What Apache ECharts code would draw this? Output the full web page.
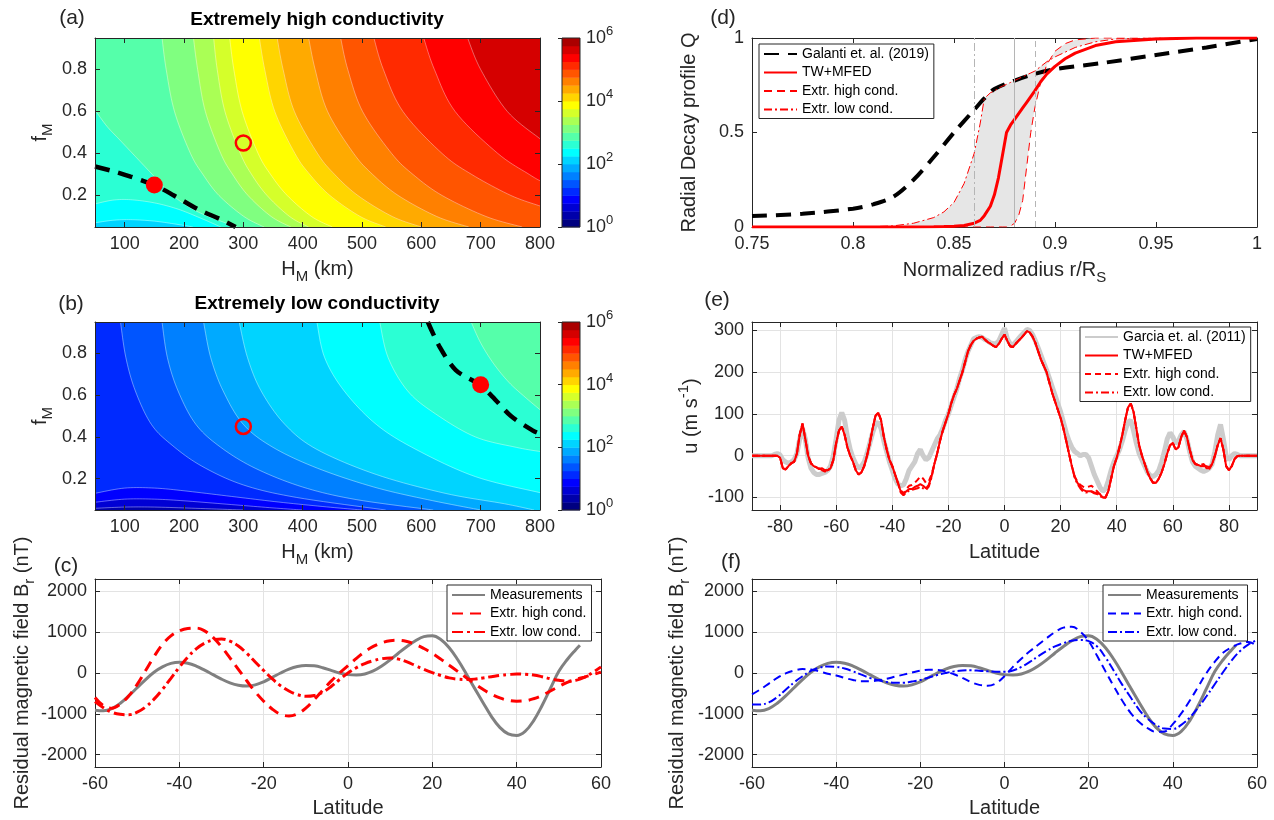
<!DOCTYPE html>
<html><head><meta charset="utf-8">
<script src="https://cdn.jsdelivr.net/npm/echarts@6/dist/echarts.min.js"></script>
<style>html,body{margin:0;padding:0;background:#fff}#main{width:1274px;height:820px}</style>
</head><body><div id="main"></div>
<script>
// ================= DATA =================
// Panel (a): contour boundaries [H_M (km), f_M] at log10 levels (Extremely high conductivity)
const a_c225 = [[50,0.07],[80,0.082],[110,0.085],[150,0.078],[190,0.062],[215,0.05]];
const a_c250 = [[50,0.16],[80,0.178],[110,0.18],[150,0.165],[190,0.135],[230,0.09],[262,0.05]];
const a_c275 = [[50,0.607],[70,0.53],[90,0.47],[110,0.41],[130,0.35],[150,0.29],[170,0.23],[195,0.17],[225,0.12],[260,0.08],[290,0.05]];
const a_c300 = [[163,0.95],[170,0.8],[184,0.6],[211,0.4],[232,0.3],[259,0.2],[301,0.1],[335,0.05]];
const a_c325 = [[216,0.95],[223,0.8],[236,0.6],[262,0.4],[282,0.3],[308,0.2],[347,0.1],[380,0.05]];
const a_c350 = [[250,0.95],[256,0.8],[269,0.6],[295,0.4],[314,0.3],[340,0.2],[378,0.1],[410,0.05]];
const a_c375 = [[277,0.95],[284,0.8],[298,0.6],[325,0.4],[346,0.3],[374,0.2],[415,0.1],[450,0.05]];
const a_c400 = [[327,0.95],[336,0.8],[353,0.6],[387,0.4],[412,0.3],[446,0.2],[497,0.1],[540,0.05]];
const a_c425 = [[357,0.95],[367,0.8],[386,0.6],[425,0.4],[454,0.3],[493,0.2],[551,0.1],[600,0.05]];
const a_c450 = [[410,0.95],[421,0.8],[442,0.6],[486,0.4],[518,0.3],[561,0.2],[626,0.1],[680,0.05]];
const a_c475 = [[464,0.95],[476,0.8],[501,0.6],[550,0.4],[586,0.3],[635,0.2],[709,0.1],[770,0.05]];
const a_c500 = [[520,0.95],[536,0.8],[569,0.6],[635,0.4],[685,0.3],[751,0.2],[800,0.15]];
const a_c525 = [[604,0.95],[622,0.8],[657,0.6],[729,0.4],[782,0.3],[800,0.27]];
const a_c550 = [[678,0.95],[700,0.8],[745,0.6],[800,0.47]];
const aBaseLevel = 2.0;
const aDashed = [[50,0.338],[83,0.314],[110,0.29],[150,0.25],[183,0.2],[223,0.135],[263,0.085],[287,0.05]];
const aDotFilled = [[150,0.25]];
const aDotOpen = [[300,0.45]];

// Panel (b): Extremely low conductivity
const b_c050 = [[50,0.058],[100,0.064],[150,0.064],[220,0.058],[300,0.05]];
const b_c075 = [[50,0.087],[100,0.102],[150,0.102],[200,0.094],[280,0.076],[350,0.06],[400,0.05]];
const b_c100 = [[50,0.13],[100,0.155],[150,0.155],[200,0.142],[280,0.115],[360,0.088],[440,0.065],[500,0.05]];
const b_c125 = [[93,0.95],[102,0.78],[118,0.62],[145,0.46],[180,0.36],[230,0.26],[300,0.17],[390,0.11],[540,0.05]];
const b_c150 = [[163,0.95],[172,0.78],[190,0.62],[220,0.46],[262,0.35],[320,0.25],[400,0.16],[490,0.1],[620,0.05]];
const b_c175 = [[233,0.95],[245,0.78],[266,0.62],[300,0.46],[350,0.35],[425,0.25],[520,0.16],[610,0.1],[700,0.05]];
const b_c200 = [[293,0.95],[307,0.78],[330,0.62],[370,0.46],[424,0.34],[524,0.22],[640,0.13],[740,0.08],[790,0.05]];
const b_c225 = [[424,0.95],[437,0.78],[470,0.62],[524,0.46],[591,0.34],[691,0.21],[800,0.133]];
const b_c250 = [[530,0.95],[544,0.78],[577,0.62],[624,0.51],[691,0.4],[760,0.35],[800,0.33]];
const b_c275 = [[684,0.95],[700,0.85],[722,0.75],[748,0.66],[775,0.59],[800,0.53]];
const bBaseLevel = 0.25;
const bDashed = [[611,0.95],[631,0.83],[658,0.72],[698,0.65],[724,0.58],[751,0.5],[788,0.43],[800,0.415]];
const bDotFilled = [[700,0.65]];
const bDotOpen = [[300,0.45]];

// Colorbar band lower bounds (log10)
const cbLevels = [0,0.25,0.5,0.75,1,1.25,1.5,1.75,2,2.25,2.5,2.75,3,3.25,3.5,3.75,4,4.25,4.5,4.75,5,5.25,5.5,5.75];

// Panels (c),(f): residual magnetic field vs latitude
const latMeas = [-60,-58,-56,-54,-52,-50,-48,-46,-44,-42,-40,-38,-36,-34,-32,-30,-28,-26,-24,-22,-20,-18,-16,-14,-12,-10,-8,-6,-4,-2,0,2,4,6,8,10,12,14,16,18,20,22,24,26,28,30,32,34,36,38,40,42,44,46,48,50,52,54,55];
const brMeas = [-910,-925,-870,-740,-560,-360,-160,20,150,235,
  265,240,170,70,-40,-150,-240,-300,-320,-290,
  -215,-110,0,95,160,185,175,130,65,0,
  -40,-50,-25,50,170,320,490,650,790,890,
  910,820,620,330,-10,-370,-720,-1060,-1330,-1490,
  -1530,-1430,-1170,-800,-380,40,330,570,680];
const latC = [-60,-58,-56,-54,-52,-50,-48,-46,-44,-42,-40,-38,-36,-34,-32,-30,-28,-26,-24,-22,-20,-18,-16,-14,-12,-10,-8,-6,-4,-2,0,2,4,6,8,10,12,14,16,18,20,22,24,26,28,30,32,34,36,38,40,42,44,46,48,50,52,54,56,58,60];
const brHighC = [-600,-800,-860,-760,-560,-280,60,400,700,910,
  1030,1090,1100,1030,870,640,370,90,-190,-460,
  -690,-880,-1010,-1050,-1000,-860,-650,-420,-200,0,
  180,360,520,650,740,790,800,770,700,600,
  480,340,190,40,-110,-260,-400,-520,-610,-670,
  -690,-680,-630,-550,-440,-330,-230,-160,-100,-40,20];
const brLowC = [-700,-850,-960,-1010,-1020,-960,-830,-640,-400,-130,
  140,390,590,730,810,830,780,660,480,270,
  60,-140,-310,-440,-530,-570,-550,-470,-330,-160,
  0,130,230,300,350,370,340,270,180,90,
  10,-60,-120,-150,-160,-150,-120,-90,-60,-40,
  -25,-30,-50,-90,-140,-180,-200,-180,-110,10,150];
const brHighF = [-520,-400,-260,-120,-10,60,95,85,40,-20,
  -60,-120,-170,-200,-200,-180,-140,-90,-40,10,
  55,80,75,40,-30,-120,-220,-290,-310,-250,
  -80,150,350,530,690,850,1000,1110,1130,1010,
  780,420,40,-330,-680,-980,-1200,-1350,-1440,-1430,
  -1250,-990,-680,-340,0,280,500,630,720,760,660];
const brLowF = [-770,-770,-720,-590,-410,-230,-80,50,130,160,
  150,110,40,-40,-120,-180,-220,-240,-240,-210,
  -170,-110,-50,0,40,60,65,55,40,30,
  30,60,150,270,410,540,650,730,790,810,
  780,650,380,50,-290,-600,-900,-1120,-1270,-1360,
  -1370,-1270,-1090,-850,-570,-270,30,310,540,700,810];

// Panel (d): radial decay profile Q vs r/R_S
const rGal = [0.75,0.775,0.8,0.81,0.82,0.83,0.84,0.85,0.86,0.865,0.87,0.88,0.89,0.9,0.925,0.95,0.975,1.0];
const qGal = [0.058,0.07,0.097,0.12,0.16,0.25,0.37,0.5,0.62,0.68,0.73,0.775,0.81,0.835,0.87,0.91,0.95,0.995];
const rRed = [0.75,0.8,0.81,0.82,0.83,0.84,0.845,0.85,0.855,0.86,0.863,0.865,0.868,0.87,0.872,0.874,0.876,0.878,0.88,0.882,0.884,0.886,0.888,0.89,0.893,0.896,0.9,0.905,0.91,0.92,0.93,0.95,0.97,1.0];
const qTW = [0,0,0,0,0,0.001,0.002,0.004,0.008,0.02,0.035,0.06,0.11,0.17,0.26,0.38,0.5,0.54,0.57,0.6,0.63,0.66,0.69,0.72,0.77,0.81,0.85,0.89,0.92,0.96,0.98,0.995,1,1];
const qHigh = [0,0,0,0,0,0,0,0,0,0,0,0,0,0,0,0,0,0.005,0.02,0.06,0.14,0.32,0.5,0.63,0.77,0.86,0.93,0.97,0.99,1,1,1,1,1];
const qLow = [0,0,0.002,0.006,0.02,0.05,0.08,0.13,0.23,0.39,0.55,0.68,0.71,0.72,0.735,0.745,0.755,0.765,0.775,0.785,0.795,0.805,0.815,0.825,0.85,0.875,0.9,0.925,0.95,0.98,0.995,1,1,1];
const vLines = [0.865, 0.875, 0.885];

// Panel (e): zonal wind u (m/s) vs latitude
const latE = [-90,-89,-88,-87,-86,-85,-84,-83,-82,-81,
  -80,-79,-78,-77,-76,-75,-74,-73,-72,-71,
  -70,-69,-68,-67,-66,-65,-64,-63,-62,-61,
  -60,-59,-58,-57,-56,-55,-54,-53,-52,-51,
  -50,-49,-48,-47,-46,-45,-44,-43,-42,-41,
  -40,-39,-38,-37,-36,-35,-34,-33,-32,-31,
  -30,-29,-28,-27,-26,-25,-24,-23,-22,-21,
  -20,-19,-18,-17,-16,-15,-14,-13,-12,-11,
  -10,-9,-8,-7,-6,-5,-4,-3,-2,-1,
  0,1,2,3,4,5,6,7,8,9,
  10,11,12,13,14,15,16,17,18,19,
  20,21,22,23,24,25,26,27,28,29,
  30,31,32,33,34,35,36,37,38,39,
  40,41,42,43,44,45,46,47,48,49,
  50,51,52,53,54,55,56,57,58,59,
  60,61,62,63,64,65,66,67,68,69,
  70,71,72,73,74,75,76,77,78,79,
  80,81,82,83,84,85,86,87,88,89,90];
const uGarcia = [0,0,0,0,0,0,0,0,3,5,
  2,-10,-15,-18,-15,-10,5,40,65,40,
  -5,-30,-40,-45,-45,-42,-40,-35,-25,0,
  40,85,103,85,45,15,-5,-20,-30,-25,
  -15,5,30,55,75,80,65,35,10,-15,
  -35,-55,-68,-72,-70,-55,-35,-25,-15,5,
  15,0,-10,-5,10,25,40,50,65,85,
  100,120,140,160,185,205,230,250,265,280,
  283,285,283,278,275,270,268,268,275,290,
  305,280,268,265,272,280,288,295,302,300,
  290,275,258,240,222,205,185,165,145,125,
  105,80,55,35,20,10,5,0,3,3,
  -5,-25,-45,-60,-75,-85,-80,-60,-35,-15,
  0,15,35,60,80,85,60,30,5,-10,
  -25,-40,-48,-50,-45,-35,-15,10,40,55,
  45,30,35,50,58,40,10,-15,-25,-30,
  -35,-38,-35,-30,-20,10,50,75,40,0,
  -10,0,5,3,0,0,0,0,0,0,0];
const uTW = [0,0,0,0,0,0,0,0,0,0,
  -5,-30,-33,-25,-18,-15,5,50,77,40,
  0,-18,-25,-28,-32,-30,-35,-35,-30,-10,
  30,60,70,50,20,0,-15,-35,-45,-40,
  -25,0,30,65,95,103,85,45,15,-10,
  -25,-45,-65,-85,-93,-85,-80,-80,-75,-72,
  -68,-72,-78,-70,-50,-20,5,35,60,80,
  100,125,145,160,180,200,225,250,265,275,
  280,283,285,278,272,268,263,260,268,280,
  290,275,262,260,268,275,282,290,298,295,
  285,270,250,230,215,200,175,150,130,110,
  90,65,35,5,-25,-50,-65,-75,-82,-85,
  -85,-85,-88,-90,-92,-100,-100,-85,-55,-25,
  -5,20,50,85,115,125,105,65,25,0,
  -20,-40,-55,-65,-65,-55,-40,-20,5,25,
  30,15,20,45,60,45,15,-10,-20,-22,
  -25,-25,-25,-28,-20,0,25,42,15,-25,
  -35,-25,-8,-1,0,0,0,0,0,0,0];
const uHigh = [0,0,0,0,0,0,0,0,0,0,
  -5,-30,-33,-25,-18,-15,5,50,77,40,
  0,-18,-25,-28,-32,-30,-35,-35,-30,-10,
  30,60,70,50,20,0,-15,-35,-45,-40,
  -25,0,30,65,95,103,85,45,15,-10,
  -25,-45,-65,-83,-90,-80,-72,-70,-65,-58,
  -50,-55,-65,-62,-45,-20,5,35,60,80,
  100,125,145,160,180,200,225,250,265,275,
  280,283,285,278,272,268,263,260,268,280,
  290,275,262,260,268,275,282,290,298,295,
  285,270,250,230,215,200,175,150,130,110,
  90,65,35,5,-25,-50,-62,-70,-74,-76,
  -74,-72,-78,-85,-92,-100,-100,-85,-55,-25,
  -5,20,50,85,115,125,105,65,25,0,
  -20,-40,-55,-65,-65,-55,-40,-20,5,25,
  30,15,20,45,60,45,15,-10,-20,-22,
  -22,-20,-28,-32,-20,0,25,42,15,-25,
  -35,-25,-8,-1,0,0,0,0,0,0,0];
const uLow = [0,0,0,0,0,0,0,0,0,0,
  -5,-30,-33,-25,-18,-15,5,50,77,40,
  0,-18,-25,-28,-30,-35,-38,-35,-30,-10,
  30,60,70,50,20,0,-15,-35,-45,-40,
  -25,0,30,65,95,103,85,45,15,-10,
  -25,-45,-65,-88,-95,-88,-84,-82,-80,-78,
  -74,-78,-82,-74,-52,-20,5,35,60,80,
  100,125,145,160,180,200,225,250,265,275,
  280,283,285,278,272,268,263,260,268,280,
  290,275,262,260,268,275,282,290,298,295,
  285,270,250,230,215,200,175,150,130,110,
  90,65,35,5,-25,-52,-68,-78,-86,-88,
  -87,-86,-90,-92,-95,-102,-100,-85,-55,-25,
  -5,20,50,85,115,125,105,65,25,0,
  -20,-40,-55,-65,-65,-55,-40,-20,5,25,
  30,15,20,45,60,45,15,-10,-20,-22,
  -25,-22,-30,-30,-20,0,25,42,15,-25,
  -35,-25,-8,-1,0,0,0,0,0,0,0];

// ================= STYLE / HELPERS =================
const INK = '#262626';
const GRIDC = '#e3e3e3';
const FONT = "'Liberation Sans', Arial, Helvetica, sans-serif";
const RICH = {
  b: {fontSize: 20, fontFamily: FONT, color: INK, lineHeight: 30},
  s: {fontSize: 15, fontFamily: FONT, color: INK, lineHeight: 15, verticalAlign: 'bottom'},
  p: {fontSize: 15, fontFamily: FONT, color: INK, lineHeight: 15, verticalAlign: 'top'}
};
const CBRICH = {
  m: {fontSize: 18, fontFamily: FONT, color: INK, lineHeight: 26},
  e: {fontSize: 13, fontFamily: FONT, color: INK, lineHeight: 13, verticalAlign: 'top'}
};
const fmt = v => String(+(+v).toFixed(6));

function merge(t, s) {
  for (const k in s) {
    const v = s[k];
    if (v && typeof v === 'object' && !Array.isArray(v) && t[k] && typeof t[k] === 'object' && !Array.isArray(t[k])) merge(t[k], v);
    else t[k] = v;
  }
  return t;
}
function axis(gridIndex, position, cfg) {
  return merge({
    type: 'value', gridIndex: gridIndex, position: position,
    axisLine: {show: true, onZero: false, lineStyle: {color: INK, width: 1}},
    axisTick: {show: true, inside: true, length: 5, lineStyle: {color: INK, width: 1}},
    axisLabel: {show: true, color: INK, fontSize: 18, fontFamily: FONT, margin: 8, formatter: fmt},
    splitLine: {show: false},
    nameLocation: 'middle',
    nameTextStyle: {color: INK, fontFamily: FONT, fontSize: 20, rich: RICH}
  }, cfg || {});
}
const gridLines = {show: true, showMinLine: false, showMaxLine: false, lineStyle: {color: GRIDC, width: 1}};
const noLabel = {show: false};

function jet(level) {
  const t = level / 6;
  const c = v => Math.round(255 * Math.max(0, Math.min(1, v)));
  return 'rgb(' + c(1.5 - Math.abs(4 * t - 3)) + ',' + c(1.5 - Math.abs(4 * t - 2)) + ',' + c(1.5 - Math.abs(4 * t - 1)) + ')';
}
function catmull(pts, seg) {
  if (pts.length < 3) return pts.slice();
  const out = [];
  for (let i = 0; i < pts.length - 1; i++) {
    const p0 = pts[Math.max(i - 1, 0)], p1 = pts[i], p2 = pts[i + 1], p3 = pts[Math.min(i + 2, pts.length - 1)];
    for (let j = 0; j < seg; j++) {
      const t = j / seg, t2 = t * t, t3 = t2 * t;
      const f = k => 0.5 * (2 * p1[k] + (-p0[k] + p2[k]) * t + (2 * p0[k] - 5 * p1[k] + 4 * p2[k] - p3[k]) * t2 + (-p0[k] + 3 * p1[k] - 3 * p2[k] + p3[k]) * t3);
      out.push([f(0), f(1)]);
    }
  }
  out.push(pts[pts.length - 1]);
  return out;
}
function contourRenderer(list, baseLevel, xr, yr) {
  return function (params, api) {
    const i = api.value(0);
    const children = [];
    if (i === 0) {
      const q0 = api.coord([xr[0], yr[1]]), q1 = api.coord([xr[1], yr[0]]);
      children.push({type: 'rect', shape: {x: q0[0], y: q0[1], width: q1[0] - q0[0], height: q1[1] - q0[1]}, style: {fill: jet(baseLevel)}});
    }
    const lvl = list[i][0], pts = list[i][1];
    const line = catmull(pts.map(p => api.coord(p)), 10);
    const first = pts[0], last = pts[pts.length - 1];
    const corners = [];
    if (last[1] <= yr[0] + 1e-9 && last[0] < xr[1] - 1e-9) corners.push([xr[1], yr[0]]);
    corners.push([xr[1], yr[1]]);
    if (first[0] <= xr[0] + 1e-9 && first[1] < yr[1] - 1e-9) corners.push([xr[0], yr[1]]);
    const poly = line.concat(corners.map(c => api.coord(c)));
    children.push({type: 'polygon', shape: {points: poly}, style: {fill: jet(lvl), stroke: jet(lvl), lineWidth: 0.5}});
    children.push({type: 'polyline', shape: {points: line}, style: {fill: null, stroke: 'rgba(255,255,255,0.55)', lineWidth: 0.7}});
    return {type: 'group', children: children};
  };
}
const CB_STEP = cbLevels[1] - cbLevels[0];
function cbRender(params, api) {
  const lo = api.value(0);
  const p0 = api.coord([0, lo + CB_STEP]), p1 = api.coord([1, lo]);
  const children = [{type: 'rect', shape: {x: p0[0], y: p0[1], width: p1[0] - p0[0], height: p1[1] - p0[1] + 0.4}, style: {fill: jet(lo)}}];
  if (params.dataIndex === 0) {
    const q0 = api.coord([0, 6]), q1 = api.coord([1, 0]);
    children.push({type: 'rect', z2: 10, shape: {x: q0[0], y: q0[1], width: q1[0] - q0[0], height: q1[1] - q0[1]}, style: {fill: null, stroke: INK, lineWidth: 1}});
  }
  return {type: 'group', children: children};
}
// band between the two extreme-conductivity profiles in (d)
function bandRender(params, api) {
  const upper = rRed.map((r, i) => api.coord([r, qLow[i]]));
  const lower = rRed.map((r, i) => api.coord([r, qHigh[i]])).reverse();
  return {type: 'polygon', shape: {points: upper.concat(lower)}, style: {fill: '#e6e6e6', stroke: null}};
}
const pairs = (xs, ys) => xs.map((x, i) => [x, ys[i]]);
function lineS(name, idx, data, color, width, type, extra) {
  return merge({type: 'line', name: name, xAxisIndex: idx, yAxisIndex: idx, data: data, symbol: 'none', showSymbol: false,
    lineStyle: {color: color, width: width, type: type}, itemStyle: {color: color}, z: 3}, extra || {});
}

const contoursA = [[2.25,a_c225],[2.5,a_c250],[2.75,a_c275],[3.0,a_c300],[3.25,a_c325],[3.5,a_c350],[3.75,a_c375],[4.0,a_c400],[4.25,a_c425],[4.5,a_c450],[4.75,a_c475],[5.0,a_c500],[5.25,a_c525],[5.5,a_c550]];
const contoursB = [[0.5,b_c050],[0.75,b_c075],[1.0,b_c100],[1.25,b_c125],[1.5,b_c150],[1.75,b_c175],[2.0,b_c200],[2.25,b_c225],[2.5,b_c250],[2.75,b_c275]];

// ================= LAYOUT =================
const G = [
  {left: 95, top: 38, width: 445, height: 189},
  {left: 95, top: 322, width: 445, height: 188},
  {left: 95, top: 579, width: 506, height: 188},
  {left: 752, top: 38, width: 505, height: 189},
  {left: 752, top: 322, width: 505, height: 188},
  {left: 752, top: 579, width: 505, height: 188},
  {left: 562, top: 38, width: 18, height: 189},
  {left: 562, top: 322, width: 18, height: 188}
].map(g => Object.assign({containLabel: false, outerBoundsMode: 'none', show: false}, g));

const xA = {min: 50, max: 800, splitNumber: 7};
const yA = {min: 0.05, max: 0.95, splitNumber: 5};
const xC = {min: -60, max: 60, interval: 20};
const yC = {min: -2300, max: 2300, splitNumber: 5};
const xD = {min: 0.75, max: 1, interval: 0.05};
const yD = {min: 0, max: 1, interval: 0.5};
const xE = {min: -90, max: 90, splitNumber: 9};
const yE = {min: -130, max: 320, splitNumber: 5};
const hideEnds = {showMinLabel: false, showMaxLabel: false};
const HM = '{b|H}{s|M}{b| (km)}';
const FM = '{b|f}{s|M}';
const BR = '{b|Residual magnetic field B}{s|r}{b| (nT)}';

const xAxes = [
  axis(0, 'bottom', merge(Object.assign({}, xA), {z: 10, axisLabel: {showMinLabel: false}, name: HM, nameGap: 27})),
  axis(1, 'bottom', merge(Object.assign({}, xA), {z: 10, axisLabel: {showMinLabel: false}, name: HM, nameGap: 27})),
  axis(2, 'bottom', merge(Object.assign({}, xC), {splitLine: gridLines, name: '{b|Latitude}', nameGap: 26})),
  axis(3, 'bottom', merge(Object.assign({}, xD), {name: '{b|Normalized radius r/R}{s|S}', nameGap: 28})),
  axis(4, 'bottom', merge(Object.assign({}, xE), {axisLabel: hideEnds, splitLine: gridLines, name: '{b|Latitude}', nameGap: 27})),
  axis(5, 'bottom', merge(Object.assign({}, xC), {splitLine: gridLines, name: '{b|Latitude}', nameGap: 26})),
  {type: 'value', gridIndex: 6, min: 0, max: 1, show: false},
  {type: 'value', gridIndex: 7, min: 0, max: 1, show: false},
  axis(0, 'top', merge(Object.assign({}, xA), {z: 10, axisLabel: noLabel})),
  axis(1, 'top', merge(Object.assign({}, xA), {z: 10, axisLabel: noLabel})),
  axis(2, 'top', merge(Object.assign({}, xC), {axisLabel: noLabel})),
  axis(3, 'top', merge(Object.assign({}, xD), {axisLabel: noLabel})),
  axis(4, 'top', merge(Object.assign({}, xE), {axisLabel: noLabel})),
  axis(5, 'top', merge(Object.assign({}, xC), {axisLabel: noLabel}))
];
const cbAxis = gi => ({
  type: 'value', gridIndex: gi, position: 'right', min: 0, max: 6, interval: 2,
  axisLine: {show: false}, splitLine: {show: false},
  axisTick: {show: true, inside: true, length: 4, lineStyle: {color: INK}},
  axisLabel: {show: true, margin: 6, formatter: v => '{m|10}{e|' + fmt(v) + '}', rich: CBRICH}
});
const yAxes = [
  axis(0, 'left', merge(Object.assign({}, yA), {z: 10, axisLabel: hideEnds, name: FM, nameRotate: 90, nameGap: 40})),
  axis(1, 'left', merge(Object.assign({}, yA), {z: 10, axisLabel: hideEnds, name: FM, nameRotate: 90, nameGap: 40})),
  axis(2, 'left', merge(Object.assign({}, yC), {axisLabel: hideEnds, splitLine: gridLines, name: BR, nameRotate: 90, nameGap: 56})),
  axis(3, 'left', merge(Object.assign({}, yD), {name: '{b|Radial Decay profile Q}', nameRotate: 90, nameGap: 48})),
  axis(4, 'left', merge(Object.assign({}, yE), {axisLabel: hideEnds, splitLine: gridLines, name: '{b|u (m s}{p|-1}{b|)}', nameRotate: 90, nameGap: 46})),
  axis(5, 'left', merge(Object.assign({}, yC), {axisLabel: hideEnds, splitLine: gridLines, name: BR, nameRotate: 90, nameGap: 60})),
  cbAxis(6),
  cbAxis(7),
  axis(0, 'right', merge(Object.assign({}, yA), {z: 10, axisLabel: noLabel})),
  axis(1, 'right', merge(Object.assign({}, yA), {z: 10, axisLabel: noLabel})),
  axis(2, 'right', merge(Object.assign({}, yC), {axisLabel: noLabel})),
  axis(3, 'right', merge(Object.assign({}, yD), {axisLabel: noLabel})),
  axis(4, 'right', merge(Object.assign({}, yE), {axisLabel: noLabel})),
  axis(5, 'right', merge(Object.assign({}, yC), {axisLabel: noLabel}))
];

// ================= SERIES =================
const RED = '#ff0000', BLUE = '#0000ff', GRAY = '#808080';
const series = [
  // (a)
  {type: 'custom', xAxisIndex: 0, yAxisIndex: 0, clip: true, silent: true, z: 1,
   data: contoursA.map((c, i) => [i]), renderItem: contourRenderer(contoursA, aBaseLevel, [50, 800], [0.05, 0.95])},
  lineS('aDashed', 0, aDashed, '#000', 4.5, [15, 9], {smooth: 0.3, z: 5, silent: true}),
  {type: 'scatter', xAxisIndex: 0, yAxisIndex: 0, data: aDotFilled, symbol: 'circle', symbolSize: 17, itemStyle: {color: RED, opacity: 1}, z: 6, silent: true},
  {type: 'scatter', xAxisIndex: 0, yAxisIndex: 0, data: aDotOpen, symbol: 'circle', symbolSize: 15, itemStyle: {color: 'rgba(0,0,0,0)', borderColor: RED, borderWidth: 2.5, opacity: 1}, z: 6, silent: true},
  // (b)
  {type: 'custom', xAxisIndex: 1, yAxisIndex: 1, clip: true, silent: true, z: 1,
   data: contoursB.map((c, i) => [i]), renderItem: contourRenderer(contoursB, bBaseLevel, [50, 800], [0.05, 0.95])},
  lineS('bDashed', 1, bDashed, '#000', 4.5, [15, 9], {smooth: 0.3, z: 5, silent: true}),
  {type: 'scatter', xAxisIndex: 1, yAxisIndex: 1, data: bDotFilled, symbol: 'circle', symbolSize: 17, itemStyle: {color: RED, opacity: 1}, z: 6, silent: true},
  {type: 'scatter', xAxisIndex: 1, yAxisIndex: 1, data: bDotOpen, symbol: 'circle', symbolSize: 15, itemStyle: {color: 'rgba(0,0,0,0)', borderColor: RED, borderWidth: 2.5, opacity: 1}, z: 6, silent: true},
  // colorbars
  {type: 'custom', xAxisIndex: 6, yAxisIndex: 6, silent: true, data: cbLevels.map(v => [v]), renderItem: cbRender},
  {type: 'custom', xAxisIndex: 7, yAxisIndex: 7, silent: true, data: cbLevels.map(v => [v]), renderItem: cbRender},
  // (c)
  lineS('Measurements|c', 2, pairs(latMeas, brMeas), GRAY, 3, 'solid', {smooth: 0.4}),
  lineS('Extr. high cond.|c', 2, pairs(latC, brHighC), RED, 3, [11, 7], {smooth: 0.4}),
  lineS('Extr. low cond.|c', 2, pairs(latC, brLowC), RED, 3, [11, 4, 3, 4], {smooth: 0.4}),
  // (d)
  {type: 'custom', xAxisIndex: 3, yAxisIndex: 3, clip: true, silent: true, z: 1, data: [[0]], renderItem: bandRender},
  lineS('Galanti et. al. (2019)|d', 3, pairs(rGal, qGal), '#000', 4, [15, 9], {smooth: 0.3, z: 3,
    markLine: {silent: true, symbol: 'none', label: {show: false}, animation: false,
      data: vLines.map((x, i) => ({xAxis: x, lineStyle: {color: '#b5b5b5', width: 1, type: [[8, 3, 2, 3], 'solid', [6, 4]][i]}}))}}),
  lineS('TW+MFED|d', 3, pairs(rRed, qTW), RED, 3, 'solid', {z: 4}),
  lineS('Extr. high cond.|d', 3, pairs(rRed, qHigh), RED, 1, [8, 5], {z: 4}),
  lineS('Extr. low cond.|d', 3, pairs(rRed, qLow), RED, 1, [8, 3, 2, 3], {z: 4}),
  // (e)
  lineS('Garcia et. al. (2011)|e', 4, pairs(latE, uGarcia), '#cccccc', 5, 'solid', {z: 2}),
  lineS('Extr. low cond.|e', 4, pairs(latE, uLow), RED, 2, [8, 3, 2, 3]),
  lineS('Extr. high cond.|e', 4, pairs(latE, uHigh), RED, 2, [6, 4]),
  lineS('TW+MFED|e', 4, pairs(latE, uTW), RED, 2, 'solid'),
  // (f)
  lineS('Measurements|f', 5, pairs(latMeas, brMeas), GRAY, 3, 'solid', {smooth: 0.4}),
  lineS('Extr. high cond.|f', 5, pairs(latC, brHighF), BLUE, 2, [8, 5], {smooth: 0.4}),
  lineS('Extr. low cond.|f', 5, pairs(latC, brLowF), BLUE, 2, [9, 3, 2, 3], {smooth: 0.4})
];

function legend(left, top, names) {
  return {
    orient: 'vertical', left: left, top: top, data: names, selectedMode: false,
    formatter: n => n.split('|')[0],
    itemWidth: 33, itemHeight: 14, itemGap: 4.5, padding: [3, 5, 2, 4],
    itemStyle: {color: 'rgba(0,0,0,0)', borderColor: 'rgba(0,0,0,0)', borderWidth: 0, opacity: 0},
    backgroundColor: '#fff', borderColor: INK, borderWidth: 1, borderRadius: 0,
    textStyle: {fontSize: 14, fontFamily: FONT, color: '#000'}
  };
}

const option = {
  animation: false,
  backgroundColor: '#fff',
  textStyle: {fontFamily: FONT},
  grid: G,
  xAxis: xAxes,
  yAxis: yAxes,
  series: series,
  legend: [
    legend(447, 585, ['Measurements|c', 'Extr. high cond.|c', 'Extr. low cond.|c']),
    legend(759, 44, ['Galanti et. al. (2019)|d', 'TW+MFED|d', 'Extr. high cond.|d', 'Extr. low cond.|d']),
    legend(1080, 327, ['Garcia et. al. (2011)|e', 'TW+MFED|e', 'Extr. high cond.|e', 'Extr. low cond.|e']),
    legend(1103, 585, ['Measurements|f', 'Extr. high cond.|f', 'Extr. low cond.|f'])
  ],
  title: [
    {text: 'Extremely high conductivity', left: 317, top: 10, textAlign: 'center', padding: 0,
     textStyle: {fontSize: 19, fontWeight: 'bold', fontFamily: FONT, color: '#000'}},
    {text: 'Extremely low conductivity', left: 317, top: 294, textAlign: 'center', padding: 0,
     textStyle: {fontSize: 19, fontWeight: 'bold', fontFamily: FONT, color: '#000'}}
  ],
  graphic: [
    ['(a)', 72, 18], ['(b)', 71, 304], ['(c)', 66, 566], ['(d)', 723, 18], ['(e)', 717, 300], ['(f)', 731, 562]
  ].map(t => ({type: 'text', x: t[1], y: t[2], z: 100,
    style: {text: t[0], font: '21px ' + FONT, fill: INK, align: 'center', verticalAlign: 'middle', textAlign: 'center', textVerticalAlign: 'middle'}}))
};

const chart = echarts.init(document.getElementById('main'), null, {renderer: 'canvas'});
chart.setOption(option);
</script></body></html>
